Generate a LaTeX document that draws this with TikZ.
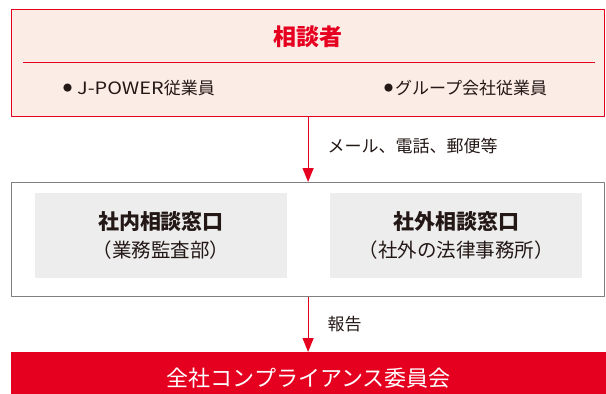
\documentclass[tikz,border=0pt]{standalone}
\usepackage{fontspec}
\setmainfont{Noto Sans CJK JP}
\usetikzlibrary{arrows.meta}
\definecolor{jred}{HTML}{E60020}
\definecolor{jpink}{HTML}{FCECE6}
\definecolor{jgray}{HTML}{808080}
\definecolor{jlight}{HTML}{EDEDED}
\definecolor{jtext}{HTML}{231815}
\newcommand{\maru}{\raisebox{3.2pt}{\fontsize{9}{9}\selectfont ●}}
\begin{document}
\begin{tikzpicture}[x=1pt,y=-1pt, line join=round,font=\fontsize{17}{20}\selectfont,text=jtext,>={Triangle[width=11pt,length=14pt]},
        box/.style={rectangle,inner sep=0pt,anchor=north west},
        soudan/.style={rectangle,inner sep=0pt,fill=jlight,minimum width=252pt,minimum height=85pt,align=center,font=\fontsize{19.5}{28}\selectfont},
        arr/.style={->,color=jred,line width=1.2pt},
        lbl/.style={right=19pt,inner sep=0pt,text=jtext}]
                \useasboundingbox (0,0) rectangle (606,394);
                \node[box,draw=jred,fill=jpink,line width=1.2pt,minimum width=593pt,minimum height=107pt] (sodansha) at (11,9) {};
                \node[text=jred,font=\bfseries\fontsize{23}{26}\selectfont] (title) at (308,37) {相談者};
                \draw[jred,line width=1pt] (23,62)--(595,62);
                \node[anchor=west,inner sep=0pt] (jpower) at (63,88) {\maru\hspace{5pt}\scalebox{1.17}[1]{J-POWER}従業員};
                \node[anchor=west,inner sep=0pt] (group) at (384,88) {\maru\hspace{2pt}グループ会社従業員};
                \node[box,draw=jgray,line width=1.2pt,minimum width=593pt,minimum height=114pt] (madoguchi) at (11,182) {};
                \node[soudan] (shanai) at (161,235.5) {{\bfseries\fontsize{21}{28}\selectfont 社内相談窓口}\\（業務監査部）};
                \node[soudan] (shagai) at (456,235.5) {{\bfseries\fontsize{21}{28}\selectfont 社外相談窓口}\\（社外の法律事務所）};
                \node[box,fill=jred,minimum width=595pt,minimum height=52pt,text=white,font=\fontsize{22}{25}\selectfont] (iinkai) at (11,352) {全社コンプライアンス委員会};
                \draw[arr] (sodansha.south)--node[lbl,pos=0.45] {メール、電話、郵便等} (sodansha.south |- madoguchi.north);
                \draw[arr] (madoguchi.south)--node[lbl] {報告} (madoguchi.south |- iinkai.north);
        \end{tikzpicture}
\end{document}
